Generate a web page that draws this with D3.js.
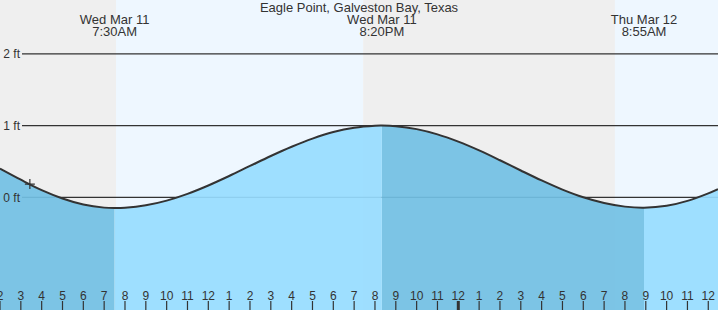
<!DOCTYPE html>
<html>
<head>
<meta charset="utf-8">
<script src="https://cdn.jsdelivr.net/npm/d3@7"></script>
<style>
  body { margin: 0; background: #fff; }
  svg { display: block; font-family: "Liberation Sans", Arial, sans-serif; }
</style>
</head>
<body>
<svg id="chart" width="718" height="310"></svg>
<script>
const title = 'Eagle Point, Galveston Bay, Texas';

// hourly heights (ft), plus the high/low points
const hours = [
  '2026-03-11T02:00', '2026-03-11T03:00', '2026-03-11T04:00', '2026-03-11T05:00',
  '2026-03-11T06:00', '2026-03-11T07:00', '2026-03-11T07:30', '2026-03-11T08:00',
  '2026-03-11T09:00', '2026-03-11T10:00', '2026-03-11T11:00', '2026-03-11T12:00',
  '2026-03-11T13:00', '2026-03-11T14:00', '2026-03-11T15:00', '2026-03-11T16:00',
  '2026-03-11T17:00', '2026-03-11T18:00', '2026-03-11T19:00', '2026-03-11T20:00',
  '2026-03-11T20:20', '2026-03-11T21:00', '2026-03-11T22:00', '2026-03-11T23:00',
  '2026-03-12T00:00', '2026-03-12T01:00', '2026-03-12T02:00', '2026-03-12T03:00',
  '2026-03-12T04:00', '2026-03-12T05:00', '2026-03-12T06:00', '2026-03-12T07:00',
  '2026-03-12T08:00', '2026-03-12T08:55', '2026-03-12T10:00', '2026-03-12T11:00',
  '2026-03-12T12:00', '2026-03-12T12:28',
];
const heights = [
  0.40, 0.245, 0.10, -0.016,
  -0.10, -0.144, -0.15, -0.146,
  -0.112, -0.046, 0.048, 0.165,
  0.297, 0.437, 0.576, 0.705,
  0.819, 0.910, 0.970, 0.998,
  1.00, 0.992, 0.951, 0.878,
  0.776, 0.654, 0.517, 0.374,
  0.235, 0.107, 0.0, -0.080,
  -0.130, -0.145, -0.119, -0.05,
  0.055, 0.114,
];

// tide events shown at the top
const event_times = ['2026-03-11T07:30', '2026-03-11T20:20', '2026-03-12T08:55'];
const event_days = ['Wed Mar 11', 'Wed Mar 11', 'Thu Mar 12'];
const event_labels = ['7:30AM', '8:20PM', '8:55AM'];

// sunrise / sunset
const sun_times = ['2026-03-11T07:34', '2026-03-11T19:26', '2026-03-12T07:31'];

const y_ticks = [0, 1, 2];
const now_time = '2026-03-11T03:26';
const now_height = 0.185;

const parse = d3.timeParse('%Y-%m-%dT%H:%M');
const data = hours.map((h, i) => ({ t: parse(h), v: heights[i] }));

const width = 718;
const height = 310;
const t0 = parse('2026-03-11T02:00');
const t1 = parse('2026-03-12T12:28');

const x = d3.scaleTime().domain([t0, t1]).range([0, width]);
const y = d3.scaleLinear().domain([0, 2]).range([197.3, 53.9]);

const svg = d3.select('#chart');

// day / night background
const sun = sun_times.map(parse);
const edges = [t0].concat(sun, [t1]);
svg.append('g')
  .selectAll('rect')
  .data(d3.pairs(edges))
  .join('rect')
  .attr('x', d => x(d[0]))
  .attr('width', d => x(d[1]) - x(d[0]))
  .attr('y', 0)
  .attr('height', height)
  .attr('fill', (d, i) => i % 2 == 0 ? '#efefef' : '#eef7ff');

// grid lines
svg.append('g')
  .selectAll('line')
  .data(y_ticks)
  .join('line')
  .attr('x1', 22)
  .attr('x2', width)
  .attr('y1', d => y(d))
  .attr('y2', d => y(d))
  .attr('stroke', '#333')
  .attr('stroke-width', 1.2);

// water fill, darker while falling, lighter while rising
const area = d3.area()
  .x(d => x(d.t))
  .y0(height)
  .y1(d => y(d.v))
  .curve(d3.curveCatmullRom);

const ev = event_times.map(parse);
const phase_edges = [t0].concat(ev, [t1]);
const defs = svg.append('defs');
d3.pairs(phase_edges).forEach((p, i) => {
  defs.append('clipPath')
    .attr('id', `phase${i}`)
    .append('rect')
    .attr('x', x(p[0]))
    .attr('width', x(p[1]) - x(p[0]))
    .attr('y', 0)
    .attr('height', height);
  svg.append('path')
    .datum(data)
    .attr('clip-path', `url(#phase${i})`)
    .attr('d', area)
    .attr('fill', i % 2 == 0 ? '#72c0e4' : '#97dcff')
    .attr('fill-opacity', 0.92);
});

const line = d3.line()
  .x(d => x(d.t))
  .y(d => y(d.v))
  .curve(d3.curveCatmullRom);

svg.append('path')
  .datum(data)
  .attr('d', line)
  .attr('fill', 'none')
  .attr('stroke', '#333')
  .attr('stroke-width', 2);

svg.append('g')
  .selectAll('text')
  .data(y_ticks)
  .join('text')
  .attr('x', 20)
  .attr('y', d => y(d))
  .attr('dy', '0.35em')
  .attr('text-anchor', 'end')
  .attr('fill', '#333')
  .style('font-size', '12px')
  .text(d => `${d} ft`);

// current time marker
const nx = x(parse(now_time));
const ny = y(now_height);
svg.append('path')
  .attr('d', `M ${nx - 5} ${ny} L ${nx + 5} ${ny} M ${nx} ${ny - 5} L ${nx} ${ny + 5}`)
  .attr('stroke', '#333')
  .attr('stroke-width', 1.2);

// title and event labels
svg.append('text')
  .attr('x', width / 2)
  .attr('y', 12)
  .attr('text-anchor', 'middle')
  .attr('fill', '#333')
  .style('font-size', '13px')
  .text(title);

const labels = svg.append('g')
  .selectAll('g')
  .data(ev)
  .join('g')
  .attr('transform', d => `translate(${x(d)}, 0)`);
labels.append('text')
  .attr('y', 24)
  .attr('text-anchor', 'middle')
  .attr('fill', '#333')
  .style('font-size', '13px')
  .text((d, i) => event_days[i]);
labels.append('text')
  .attr('y', 36)
  .attr('text-anchor', 'middle')
  .attr('fill', '#333')
  .style('font-size', '13px')
  .text((d, i) => event_labels[i]);

// hour axis
const hour_ticks = d3.timeHour.range(t0, t1);
const axis = svg.append('g');
axis.selectAll('line')
  .data(hour_ticks)
  .join('line')
  .attr('x1', d => x(d))
  .attr('x2', d => x(d))
  .attr('y1', 301)
  .attr('y2', height)
  .attr('stroke', '#333')
  .attr('stroke-width', d => d.getHours() == 0 ? 3 : 1.2);
axis.selectAll('text')
  .data(hour_ticks)
  .join('text')
  .attr('x', d => x(d))
  .attr('y', 300)
  .attr('text-anchor', 'middle')
  .attr('fill', '#333')
  .style('font-size', '12px')
  .text(d => d3.timeFormat('%-I')(d));
</script>
</body>
</html>
